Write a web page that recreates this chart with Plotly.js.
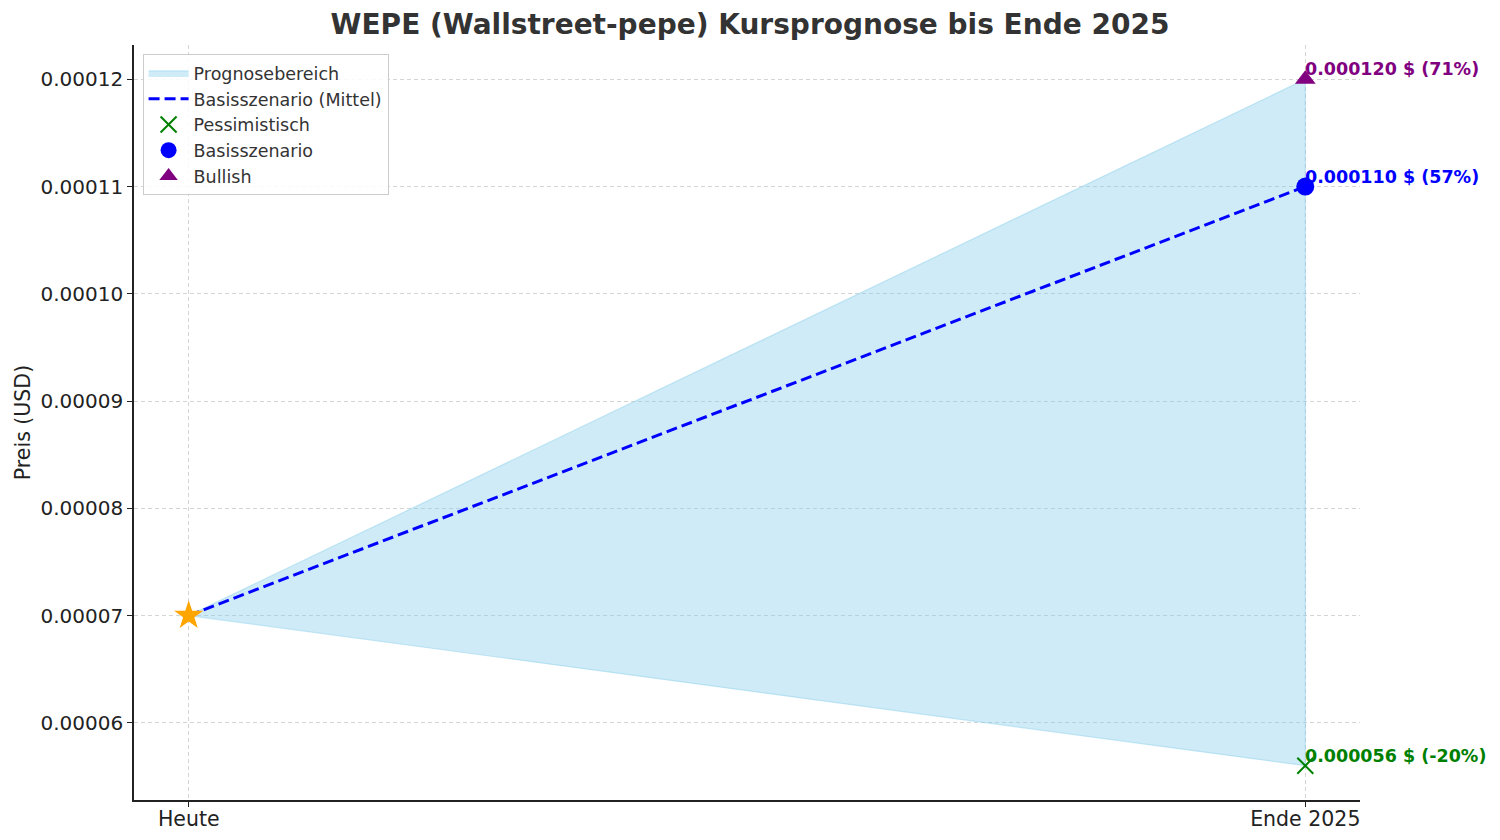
<!DOCTYPE html>
<html>
<head>
<meta charset="utf-8">
<script src="https://cdn.plot.ly/plotly-3.0.1.min.js"></script>
<style>
  html, body { margin: 0; padding: 0; background: #fff; }
  #chart { width: 1500px; height: 840px; }
</style>
</head>
<body>
<div id="chart"></div>
<script>
// Zeitpunkte und Kurswerte (USD)
const zeitpunkte = ["Heute", "Ende 2025"];
const startKurs = 0.00007;
const pessimistisch = 0.000056;
const basis = 0.00011;
const bullish = 0.00012;

const labelPessimistisch = "0.000056 $ (-20%)";
const labelBasis = "0.000110 $ (57%)";
const labelBullish = "0.000120 $ (71%)";

const fontName = "DejaVu Sans, sans-serif";

// Prognosebereich als Polygon aus Start, Bullish und Pessimistisch
const fillTrace = {
    x: [zeitpunkte[0], zeitpunkte[1], zeitpunkte[1], zeitpunkte[0]],
    y: [startKurs, bullish, pessimistisch, startKurs],
    type: "scatter",
    mode: "lines",
    fill: "toself",
    fillcolor: "rgba(135,206,235,0.4)",
    line: { color: "rgba(135,206,235,0.45)", width: 1.2 },
    name: "Prognosebereich",
    hoverinfo: "skip"
};

const baseLine = {
    x: zeitpunkte,
    y: [startKurs, basis],
    type: "scatter",
    mode: "lines",
    line: { color: "blue", width: 3, dash: "11px,5px" },
    name: "Basisszenario (Mittel)"
};

const pessTrace = {
    x: [zeitpunkte[1]],
    y: [pessimistisch],
    type: "scatter",
    mode: "markers",
    marker: { symbol: "x-thin-open", size: 16, color: "green", line: { color: "green", width: 2 } },
    name: "Pessimistisch"
};

const basisTrace = {
    x: [zeitpunkte[1]],
    y: [basis],
    type: "scatter",
    mode: "markers",
    marker: { symbol: "circle", size: 18, color: "blue" },
    name: "Basisszenario"
};

const bullTrace = {
    x: [zeitpunkte[1]],
    y: [bullish],
    type: "scatter",
    mode: "markers",
    marker: { symbol: "triangle-up", size: 18, color: "purple" },
    name: "Bullish"
};

const startTrace = {
    x: [zeitpunkte[0]],
    y: [startKurs],
    type: "scatter",
    mode: "markers",
    marker: { symbol: "star", size: 22, color: "orange" },
    showlegend: false,
    name: "Aktuell"
};

function note(y, text, color) {
    return {
        x: zeitpunkte[1], y: y, xref: "x", yref: "y",
        text: "<b>" + text + "</b>",
        showarrow: false, xanchor: "left", yanchor: "bottom",
        xshift: -2, yshift: -2,
        font: { family: fontName, size: 17.5, color: color }
    };
}

const layout = {
    width: 1500,
    height: 840,
    paper_bgcolor: "#ffffff",
    plot_bgcolor: "#ffffff",
    margin: { l: 134, r: 140, t: 45, b: 40 },
    font: { family: fontName, color: "#222" },
    title: {
        text: "<b>WEPE (Wallstreet-pepe) Kursprognose bis Ende 2025</b>",
        font: { family: fontName, size: 28, color: "#333" },
        x: 0.5, xanchor: "center", y: 0.971, yanchor: "middle"
    },
    xaxis: {
        type: "category",
        range: [-0.049, 1.049],
        showline: true, linecolor: "#222", linewidth: 1.5,
        ticks: "outside", ticklen: 5, tickcolor: "#222",
        ticklabelstandoff: -5,
        showgrid: true, gridcolor: "#d4d4d4", griddash: "4px,3px", gridwidth: 1,
        tickfont: { size: 20.5, color: "#222" },
        zeroline: false
    },
    yaxis: {
        range: [0.0000528, 0.0001232],
        dtick: 0.00001, tick0: 0,
        tickformat: ".5f",
        showline: true, linecolor: "#222", linewidth: 1.5,
        ticks: "outside", ticklen: 5, tickcolor: "#222",
        showgrid: true, gridcolor: "#d4d4d4", griddash: "4px,3px", gridwidth: 1,
        tickfont: { size: 20, color: "#222" },
        zeroline: false,
        title: { text: "Preis (USD)", font: { size: 20.5, color: "#222" }, standoff: 4 }
    },
    legend: {
        x: 0.007, y: 0.988, xanchor: "left", yanchor: "top",
        bgcolor: "rgba(255,255,255,0.85)",
        bordercolor: "#cccccc", borderwidth: 1,
        font: { family: fontName, size: 17.5, color: "#333" },
        itemwidth: 40,
        tracegroupgap: 0
    },
    annotations: [
        note(bullish, labelBullish, "purple"),
        note(basis, labelBasis, "blue"),
        note(pessimistisch, labelPessimistisch, "green")
    ],
    showlegend: true
};

Plotly.newPlot("chart", [fillTrace, baseLine, pessTrace, basisTrace, bullTrace, startTrace], layout, { displayModeBar: false });
</script>
</body>
</html>
